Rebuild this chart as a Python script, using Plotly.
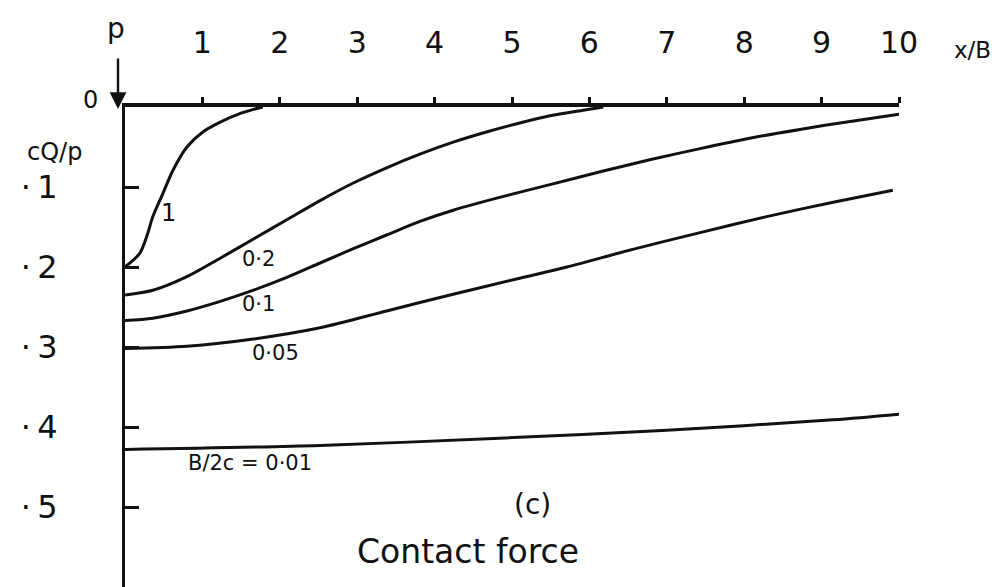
import plotly.graph_objects as go

# Contact force cQ/p along the beam, one curve per stiffness ratio B/2c
x_b1 = [0.0, 0.19, 0.28, 0.36, 0.49, 0.62, 0.80, 1.01, 1.23, 1.49, 1.66, 1.78]
q_b1 = [0.200, 0.183, 0.162, 0.137, 0.108, 0.079, 0.050, 0.031, 0.019, 0.008, 0.003, 0.0]

x_b02 = [0.0, 0.36, 0.80, 1.23, 1.66, 2.09, 2.52, 2.95, 3.38, 3.81, 4.24, 4.68, 5.10, 5.49, 5.92, 6.18]
q_b02 = [0.235, 0.229, 0.212, 0.189, 0.165, 0.141, 0.117, 0.095, 0.076, 0.059, 0.044, 0.031, 0.020, 0.011, 0.004, 0.0]

x_b01 = [0.0, 0.36, 0.80, 1.23, 1.66, 2.09, 2.52, 2.95, 3.38, 3.81, 4.24, 4.84, 5.49, 6.14, 6.78, 7.43, 8.07, 8.72, 9.37, 10.0]
q_b01 = [0.267, 0.264, 0.255, 0.243, 0.229, 0.213, 0.195, 0.177, 0.160, 0.143, 0.129, 0.113, 0.097, 0.081, 0.066, 0.052, 0.039, 0.028, 0.018, 0.009]

x_b005 = [0.0, 0.80, 1.66, 2.52, 3.38, 4.24, 5.10, 5.71, 6.56, 7.43, 8.29, 9.15, 9.92]
q_b005 = [0.302, 0.299, 0.290, 0.276, 0.255, 0.234, 0.214, 0.200, 0.178, 0.157, 0.137, 0.119, 0.104]

x_b001 = [0.0, 2.52, 4.84, 7.0, 9.15, 10.0]
q_b001 = [0.428, 0.423, 0.414, 0.404, 0.391, 0.384]

x_ticks = [1, 2, 3, 4, 5, 6, 7, 8, 9, 10]
x_tick_text = ["1", "2", "3", "4", "5", "6", "7", "8", "9", "10"]
y_ticks = [0.1, 0.2, 0.3, 0.4, 0.5]
y_tick_text = ["·\u20091", "·\u20092", "·\u20093", "·\u20094", "·\u20095"]

FONT = "DejaVu Sans"
INK = "#111111"

fig = go.Figure()
for xs, qs in [(x_b1, q_b1), (x_b02, q_b02), (x_b01, q_b01),
               (x_b005, q_b005), (x_b001, q_b001)]:
    fig.add_trace(go.Scatter(
        x=xs, y=qs, mode="lines",
        line=dict(color=INK, width=3, shape="spline", smoothing=0.8),
        showlegend=False, hoverinfo="skip", cliponaxis=False,
    ))

fig.update_xaxes(
    range=[0, 10], side="top", showgrid=False, zeroline=False,
    showline=True, linecolor=INK, linewidth=4,
    ticks="outside", ticklen=6, tickwidth=3, tickcolor=INK,
    tickvals=x_ticks, ticktext=x_tick_text, ticklabelstandoff=32,
    tickfont=dict(family=FONT, size=30, color=INK),
)
fig.update_yaxes(
    range=[0.6, 0], showgrid=False, zeroline=False,
    showline=True, linecolor=INK, linewidth=3,
    ticks="inside", ticklen=14, tickwidth=2.5, tickcolor=INK,
    tickvals=y_ticks, ticktext=y_tick_text, ticklabelstandoff=58,
    tickfont=dict(family=FONT, size=32, color=INK),
)

labels = [
    ("1", 0.56, 0.133, 24),
    ("0·2", 1.72, 0.190, 21),
    ("0·1", 1.72, 0.246, 21),
    ("0·05", 1.95, 0.308, 21),
    ("B/2c = 0·01", 1.62, 0.445, 21),
]
for text, lx, ly, size in labels:
    fig.add_annotation(x=lx, y=ly, text=text, showarrow=False,
                       font=dict(family=FONT, size=size, color=INK))

# axis captions outside the plotting area, placed in paper units
def paper_x(px):
    return (px - 125) / 774.0

def paper_y(py):
    return 1 - (py - 107) / 480.0

# load arrow P at the origin
fig.add_annotation(x=paper_x(118), y=paper_y(109), xref="paper", yref="paper",
                   text="", showarrow=True, arrowhead=2, arrowsize=1.4,
                   arrowwidth=2.4, arrowcolor=INK, ax=0, ay=-52)
captions = [
    ("p", 116, 28, 28),
    ("0", 90, 100, 24),
    ("cQ/p", 54, 152, 24),
    ("x/B", 972, 50, 23),
]
for text, px, py, size in captions:
    fig.add_annotation(x=paper_x(px), y=paper_y(py), xref="paper", yref="paper",
                       xanchor="center", yanchor="middle",
                       text=text, showarrow=False,
                       font=dict(family=FONT, size=size, color=INK))

fig.add_annotation(x=5.27, y=0.497, text="(c)", showarrow=False,
                   font=dict(family=FONT, size=28, color=INK))
fig.add_annotation(x=4.43, y=0.555, text="Contact force", showarrow=False,
                   font=dict(family=FONT, size=33, color=INK))

fig.update_layout(
    width=1006, height=587,
    margin=dict(l=125, r=107, t=107, b=0),
    paper_bgcolor="white", plot_bgcolor="white",
)

fig.write_html("out.html")
